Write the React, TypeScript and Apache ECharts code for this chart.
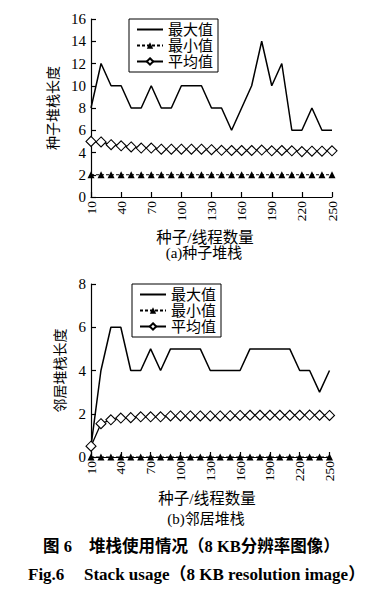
import React, { useEffect, useRef } from "react";
import * as echarts from "echarts";

const categories = ["10","20","30","40","50","60","70","80","90","100","110","120","130","140","150","160","170","180","190","200","210","220","230","240","250"];

const seedMax = [8,12,10,10,8,8,10,8,8,10,10,10,8,8,6,8,10,14,10,12,6,6,8,6,6];
const seedMin = [2,2,2,2,2,2,2,2,2,2,2,2,2,2,2,2,2,2,2,2,2,2,2,2,2];
const seedAvg = [5,4.95,4.7,4.6,4.5,4.4,4.4,4.3,4.3,4.3,4.3,4.3,4.25,4.2,4.18,4.18,4.18,4.22,4.15,4.18,4.15,4.08,4.12,4.12,4.15];

const nbMax = [0.5,4,6,6,4,4,5,4,5,5,5,5,4,4,4,4,5,5,5,5,5,4,4,3,4];
const nbMin = [0,0,0,0,0,0,0,0,0,0,0,0,0,0,0,0,0,0,0,0,0,0,0,0,0];
const nbAvg = [0.5,1.54,1.72,1.8,1.82,1.86,1.86,1.86,1.9,1.9,1.9,1.9,1.9,1.9,1.91,1.92,1.93,1.93,1.93,1.93,1.93,1.93,1.94,1.93,1.92];

const seriesNames = ["最大值", "最小值", "平均值"];
const seedYTicks = { min: 0, max: 16, interval: 2 };
const nbYTicks = { min: 0, max: 8, interval: 2 };

const FONT = "'Liberation Serif', 'Noto Sans CJK SC', serif";

export default function App() {
  const ref = useRef<HTMLDivElement>(null);
  useEffect(() => {
    document.body.style.margin = "0";
    const chart = echarts.init(ref.current!, null, { renderer: "svg" });
    const xAxisBase = (gridIndex: number) => ({
      type: "category" as const,
      gridIndex,
      data: categories,
      boundaryGap: false,
      axisLine: { lineStyle: { color: "#000", width: 1.2 } },
      axisTick: { inside: true, interval: 2, length: 5, lineStyle: { color: "#000", width: 1.2 } },
      axisLabel: { interval: 2, rotate: 90, margin: 4, color: "#000", fontSize: 13.5, fontFamily: FONT },
      splitLine: { show: false },
    });
    const yAxisBase = (gridIndex: number, t: any, name: string) => ({
      type: "value" as const,
      gridIndex,
      min: t.min,
      max: t.max,
      interval: t.interval,
      name,
      nameLocation: "middle" as const,
      nameRotate: 90,
      nameGap: 20,
      nameTextStyle: { color: "#000", fontSize: 14, fontFamily: FONT },
      axisLine: { show: true, lineStyle: { color: "#000", width: 1.2 } },
      axisTick: { show: true, inside: true, length: 5, lineStyle: { color: "#000", width: 1.2 } },
      axisLabel: { margin: 5, color: "#000", fontSize: 15, fontFamily: FONT },
      splitLine: { show: false },
    });
    const mk = (idx: number, maxD: number[], minD: number[], avgD: number[]) => [
      {
        name: seriesNames[0], type: "line", xAxisIndex: idx, yAxisIndex: idx, data: maxD,
        symbol: "none", lineStyle: { color: "#000", width: 1.5 }, itemStyle: { color: "#000" },
      },
      {
        name: seriesNames[1], type: "line", xAxisIndex: idx, yAxisIndex: idx, data: minD,
        symbol: "triangle", symbolSize: 7, showAllSymbol: true,
        lineStyle: { color: "#000", width: 1, type: [3, 2] },
        itemStyle: { color: "#000" }, z: 3,
      },
      {
        name: seriesNames[2], type: "line", xAxisIndex: idx, yAxisIndex: idx, data: avgD,
        symbol: "diamond", symbolSize: 10, showAllSymbol: true, lineStyle: { color: "#000", width: 1.3 },
        itemStyle: { color: "#fff", borderColor: "#000", borderWidth: 1.1 },
      },
    ];
    const legendBase = (left: number, top: number) => ({
      left, top, orient: "vertical" as const,
      data: [
        { name: seriesNames[0], itemStyle: { opacity: 0 } },
        { name: seriesNames[1] },
        { name: seriesNames[2] },
      ],
      borderColor: "#000", borderWidth: 1, borderRadius: 0,
      padding: [3, 5, 3, 7],
      itemGap: 1, itemWidth: 26, itemHeight: 8,
      textStyle: { color: "#000", fontSize: 15, fontFamily: FONT },
      selectedMode: false,
    });
    const txt = (x: number, y: number, text: string, size: number, bold = false, align = "center") => ({
      type: "text", x, y,
      style: { text, fontSize: size, fontFamily: FONT, fontWeight: bold ? "bold" : "normal", fill: "#000", textAlign: align, textVerticalAlign: "middle" },
    });
    chart.setOption({
      animation: false,
      backgroundColor: "#fff",
      grid: [
        { left: 91, top: 19, width: 241, height: 178 },
        { left: 91, top: 284, width: 238.5, height: 173 },
      ],
      xAxis: [xAxisBase(0), xAxisBase(1)],
      yAxis: [yAxisBase(0, seedYTicks, "种子堆栈长度"), yAxisBase(1, nbYTicks, "邻居堆栈长度")],
      legend: [legendBase(129, 19), legendBase(132, 284)],
      series: [...mk(0, seedMax, seedMin, seedAvg), ...mk(1, nbMax, nbMin, nbAvg)],
      graphic: [
        txt(205, 237, "种子/线程数量", 15.5),
        txt(204, 253, "(a)种子堆栈", 15),
        txt(207, 498, "种子/线程数量", 15.5),
        txt(206, 519, "(b)邻居堆栈", 15),
        txt(43, 546, "图 6", 16.5, true, "left"),
        txt(89, 546, "堆栈使用情况（8 KB分辨率图像）", 16.5, true, "left"),
        txt(28, 574, "Fig.6", 17, true, "left"),
        txt(84, 574, "Stack usage（8 KB resolution image）", 17, true, "left"),
      ],
    });
    return () => chart.dispose();
  }, []);
  return <div ref={ref} style={{ width: 386, height: 595 }} />;
}
